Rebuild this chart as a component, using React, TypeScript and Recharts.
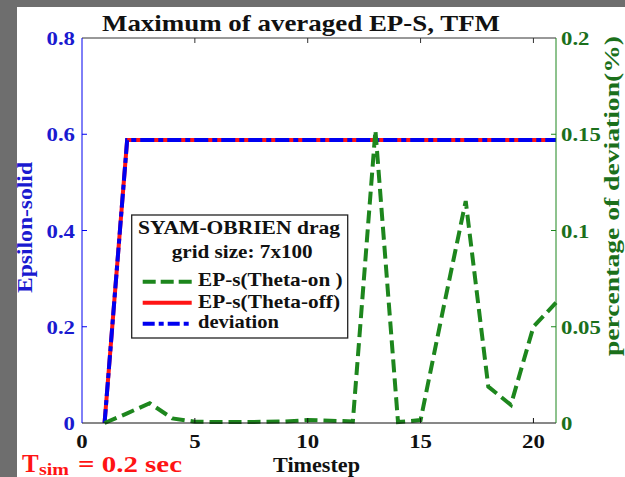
import React from "react";
import { ComposedChart, Line, XAxis, YAxis } from "recharts";

// ---- data ----
const timesteps = [1, 2, 3, 4, 5, 6, 7, 8, 9, 10, 11, 12, 13, 14, 15, 16, 17, 18, 19, 20, 21];
const epsThetaOn = [0, 0.005, 0.0103, 0.0024, 0.0007, 0.0005, 0.0005, 0.0006, 0.0008, 0.0015, 0.0012, 0.0008, 0.152, 0.0005, 0.0015, 0.059, 0.1153, 0.0189, 0.0094, 0.05, 0.0625];
const epsThetaOff = [0, 0.588, 0.588, 0.588, 0.588, 0.588, 0.588, 0.588, 0.588, 0.588, 0.588, 0.588, 0.588, 0.588, 0.588, 0.588, 0.588, 0.588, 0.588, 0.588, 0.588];
const deviation = [0, 0.588, 0.588, 0.588, 0.588, 0.588, 0.588, 0.588, 0.588, 0.588, 0.588, 0.588, 0.588, 0.588, 0.588, 0.588, 0.588, 0.588, 0.588, 0.588, 0.588];

const xTicks = [0, 5, 10, 15, 20];
const leftTicks = [0, 0.2, 0.4, 0.6, 0.8];
const rightTicks = [0, 0.05, 0.1, 0.15, 0.2];
const leftTickLabels = ["0", "0.2", "0.4", "0.6", "0.8"];
const rightTickLabels = ["0", "0.05", "0.1", "0.15", "0.2"];

const titleText = "Maximum of averaged EP-S, TFM";
const xLabel = "Timestep";
const leftLabel = "Epsilon-solid";
const rightLabel = "percentage of deviation(%)";
const legendHeader = ["SYAM-OBRIEN drag", "grid size: 7x100"];
const seriesNames = ["EP-s(Theta-on )", "EP-s(Theta-off)", "deviation"];

const data = timesteps.map((t, i) => ({
  t,
  thetaOn: epsThetaOn[i],
  thetaOff: epsThetaOff[i],
  deviation: deviation[i],
}));

// ---- styles ----
const FONT = "'Liberation Serif', 'Times New Roman', serif";
const BLUE = "#0000f0";
const BLUE_TXT = "#1a1ad0";
const RED = "#ff1414";
const GREEN = "#1d861d";
const GREEN_TXT = "#1b701b";
const GRAY = "#6e6e6e";

const LeftTick = (props: any) => {
  const { x, y, payload } = props;
  const idx = leftTicks.indexOf(payload.value);
  const inner = payload.value !== 0 && payload.value !== 0.8;
  return (
    <g>
      {inner && <line x1={x} x2={x + 5} y1={y} y2={y} stroke={BLUE} strokeWidth={1} />}
      <text
        transform={`translate(${x - 7},${y + 7}) scale(1.2,1)`}
        textAnchor="end"
        fontSize={19}
        fontWeight="bold"
        fontFamily={FONT}
        fill={BLUE_TXT}
      >
        {leftTickLabels[idx]}
      </text>
    </g>
  );
};

const RightTick = (props: any) => {
  const { x, y, payload } = props;
  const idx = rightTicks.indexOf(payload.value);
  const inner = payload.value !== 0 && payload.value !== 0.2;
  return (
    <g>
      {inner && <line x1={x} x2={x - 5} y1={y} y2={y} stroke={GREEN} strokeWidth={1} />}
      <text
        transform={`translate(${x + 5},${y + 7}) scale(1.2,1)`}
        textAnchor="start"
        fontSize={19}
        fontWeight="bold"
        fontFamily={FONT}
        fill={GREEN_TXT}
      >
        {rightTickLabels[idx]}
      </text>
    </g>
  );
};

const BottomTick = (props: any) => {
  const { x, y, payload } = props;
  return (
    <g>
      {payload.value !== 0 && <line x1={x} x2={x} y1={y} y2={y - 5} stroke="#111" strokeWidth={1} />}
      <text
        transform={`translate(${x},${y + 25}) scale(1.2,1)`}
        textAnchor="middle"
        fontSize={19}
        fontWeight="bold"
        fontFamily={FONT}
        fill="#111"
      >
        {String(payload.value)}
      </text>
    </g>
  );
};

const TopTick = (props: any) => {
  const { x, y, payload } = props;
  if (payload.value === 0) return <g />;
  return (
    <g>
      <line x1={x} x2={x} y1={y} y2={y + 5} stroke="#333" strokeWidth={1} />
    </g>
  );
};

export default function App() {
  return (
    <div style={{ position: "absolute", left: 0, top: 0, width: 625, height: 477, background: GRAY, overflow: "hidden" }}>
      <div style={{ position: "absolute", left: 17, top: 7, width: 608, height: 470, background: "#ffffff" }} />
      <div style={{ position: "absolute", left: 0, top: 0 }}>
        <ComposedChart
          width={625}
          height={477}
          data={data}
          margin={{ top: 37, right: 9, bottom: 24, left: 22 }}
        >
          <XAxis
            dataKey="t"
            type="number"
            domain={[0, 21]}
            ticks={xTicks}
            interval={0}
            height={30}
            axisLine={{ stroke: "#111", strokeWidth: 1 }}
            tickLine={false}
            tickSize={0}
            tickMargin={0}
            tick={<BottomTick />}
          />
          <XAxis
            xAxisId="top"
            orientation="top"
            dataKey="t"
            type="number"
            domain={[0, 21]}
            ticks={xTicks}
            interval={0}
            height={1}
            axisLine={{ stroke: "#333", strokeWidth: 1 }}
            tickLine={false}
            tickSize={0}
            tickMargin={0}
            tick={<TopTick />}
          />
          <YAxis
            yAxisId="left"
            domain={[0, 0.8]}
            ticks={leftTicks}
            interval={0}
            width={60}
            axisLine={{ stroke: BLUE, strokeWidth: 1 }}
            tickLine={false}
            tickSize={0}
            tickMargin={0}
            tick={<LeftTick />}
          />
          <YAxis
            yAxisId="right"
            orientation="right"
            domain={[0, 0.2]}
            ticks={rightTicks}
            interval={0}
            width={60}
            axisLine={{ stroke: GREEN, strokeWidth: 1 }}
            tickLine={false}
            tickSize={0}
            tickMargin={0}
            tick={<RightTick />}
          />
          <Line
            yAxisId="left"
            dataKey="thetaOff"
            name={seriesNames[1]}
            type="linear"
            stroke={RED}
            strokeWidth={4}
            dot={false}
            isAnimationActive={false}
          />
          <Line
            yAxisId="left"
            dataKey="deviation"
            name={seriesNames[2]}
            type="linear"
            stroke={BLUE}
            strokeWidth={4}
            strokeDasharray="14 4 5 4"
            dot={false}
            isAnimationActive={false}
          />
          <Line
            yAxisId="right"
            dataKey="thetaOn"
            name={seriesNames[0]}
            type="linear"
            stroke={GREEN}
            strokeWidth={4}
            strokeDasharray="13 6"
            dot={false}
            isAnimationActive={false}
          />
        </ComposedChart>
      </div>
      <svg
        width={625}
        height={477}
        style={{ position: "absolute", left: 0, top: 0, pointerEvents: "none" }}
        fontFamily={FONT}
        fontWeight="bold"
      >
        <text x={102} y={31} fontSize={24} fill="#111" textLength={398} lengthAdjust="spacingAndGlyphs">
          {titleText}
        </text>
        <text x={273} y={471.5} fontSize={20} fill="#111" textLength={87} lengthAdjust="spacingAndGlyphs">
          {xLabel}
        </text>
        <text
          transform="translate(32,227.5) rotate(-90)"
          textAnchor="middle"
          fontSize={20}
          fill={BLUE_TXT}
          textLength={131}
          lengthAdjust="spacingAndGlyphs"
        >
          {leftLabel}
        </text>
        <text
          transform="translate(619,356) rotate(-90)"
          textAnchor="start"
          fontSize={20}
          fill={GREEN_TXT}
          textLength={320}
          lengthAdjust="spacingAndGlyphs"
        >
          {rightLabel}
        </text>
        <text x={22} y={471.7} fontSize={25} fill={RED}>
          T
        </text>
        <text x={39} y={475} fontSize={16} fill={RED} textLength={30} lengthAdjust="spacingAndGlyphs">
          sim
        </text>
        <text x={78} y={471.7} fontSize={24} fill={RED} textLength={104} lengthAdjust="spacingAndGlyphs">
          = 0.2 sec
        </text>
        <g transform="translate(131.7,215)">
          <rect x={0} y={0} width={216} height={123} fill="#ffffff" stroke="#222" strokeWidth={1.3} />
          <text x={6.3} y={19} fontSize={19} fill="#111" textLength={202} lengthAdjust="spacingAndGlyphs">
            {legendHeader[0]}
          </text>
          <text x={40} y={42.7} fontSize={19} fill="#111" textLength={141} lengthAdjust="spacingAndGlyphs">
            {legendHeader[1]}
          </text>
          <line x1={11} x2={60} y1={66.7} y2={66.7} stroke={GREEN} strokeWidth={4} strokeDasharray="13 5" />
          <text x={66.3} y={71} fontSize={19} fill="#111" textLength={144.7} lengthAdjust="spacingAndGlyphs">
            {seriesNames[0]}
          </text>
          <line x1={11} x2={60} y1={87.7} y2={87.7} stroke={RED} strokeWidth={4} />
          <text x={66.3} y={93.3} fontSize={19} fill="#111" textLength={142} lengthAdjust="spacingAndGlyphs">
            {seriesNames[1]}
          </text>
          <line x1={11} x2={60} y1={108.7} y2={108.7} stroke={BLUE} strokeWidth={4} strokeDasharray="12 4 5 4" />
          <text x={66.3} y={113.3} fontSize={19} fill="#111" textLength={81} lengthAdjust="spacingAndGlyphs">
            {seriesNames[2]}
          </text>
        </g>
      </svg>
    </div>
  );
}
